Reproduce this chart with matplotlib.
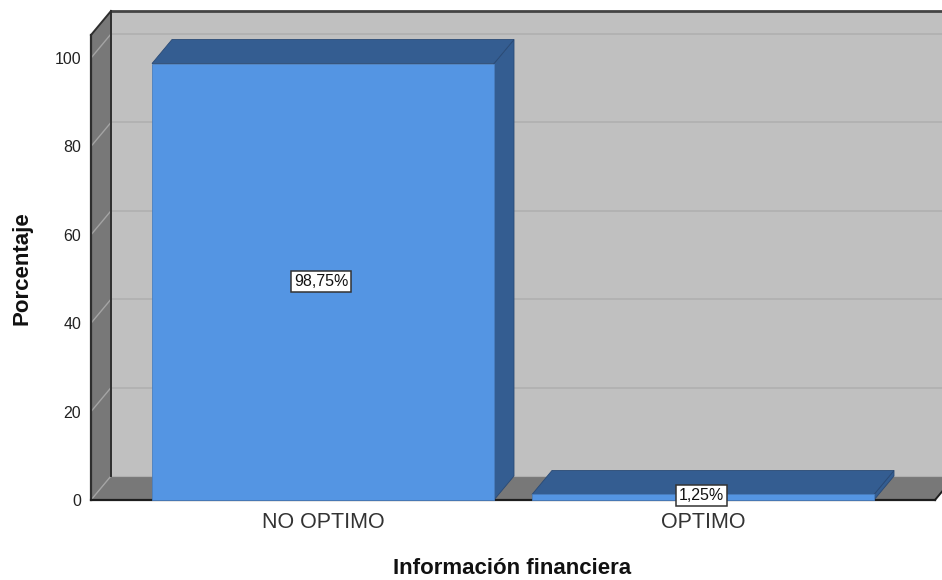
import matplotlib
matplotlib.use("Agg")
import matplotlib.pyplot as plt
from matplotlib.patches import Polygon, Rectangle

categories = ["NO OPTIMO", "OPTIMO"]
values = [98.75, 1.25]
value_labels = ["98,75%", "1,25%"]
yticks = [0, 20, 40, 60, 80, 100]
xlabel = "Información financiera"
ylabel = "Porcentaje"

W, H = 942, 580
fig = plt.figure(figsize=(W / 100, H / 100), dpi=100)
fig.patch.set_facecolor("white")

# axes frame (front plane) in pixels
left_px, right_px, base_px, top_px = 91, 942, 500, 11
ax = fig.add_axes([left_px / W, (H - base_px) / H, (right_px - left_px) / W, (base_px - top_px) / H])
py = 4.42          # pixels per percent
px = 380.0         # pixels per category
ymax = (base_px - top_px) / py
x0 = -(323 - left_px) / px
x1 = (right_px - 323) / px
ax.set_xlim(x0, x1)
ax.set_ylim(0, ymax)
ax.set_facecolor("none")
for s in ax.spines.values():
    s.set_visible(False)

dx = 20 / px
dy = 24 / py
xr_floor = (935 - 323) / px

wall_back = "#C0C0C0"
wall_side = "#787878"
edge_dark = "#2E2E2E"

# back wall
ax.add_patch(Rectangle((x0 + dx, dy), x1 + 1 - (x0 + dx), ymax - dy, facecolor=wall_back,
                       edgecolor="none", zorder=1, clip_on=False))
# left wall
ax.add_patch(Polygon([(x0, 0), (x0 + dx, dy), (x0 + dx, ymax), (x0, ymax - dy)], closed=True,
                     facecolor=wall_side, edgecolor="none", zorder=2, clip_on=False))
# floor
ax.add_patch(Polygon([(x0, 0), (xr_floor, 0), (xr_floor + dx, dy), (x0 + dx, dy)], closed=True,
                     facecolor=wall_side, edgecolor="none", zorder=2, clip_on=False))

# gridlines
for v in yticks[1:]:
    ax.plot([x0 + dx, x1 + 1], [v + dy, v + dy], color="#B0B0B0", lw=1.2, zorder=3, clip_on=False)
    ax.plot([x0, x0 + dx], [v, v + dy], color="#A4A4A4", lw=1.0, zorder=3, clip_on=False)
ax.plot([x0 + dx, x1 + 1], [dy, dy], color="#B0B0B0", lw=0.8, zorder=3, clip_on=False)
ax.plot([x0, x0 + dx], [0, dy], color="#A4A4A4", lw=1.0, zorder=3, clip_on=False)

# edges
ax.plot([x0, x0], [0, ymax - dy], color=edge_dark, lw=1.6, zorder=4, clip_on=False)
ax.plot([x0, x0 + dx], [ymax - dy, ymax], color=edge_dark, lw=1.4, zorder=4, clip_on=False)
ax.plot([x0 + dx, x1 + 1], [ymax, ymax], color="#444444", lw=2.0, zorder=4, clip_on=False)
ax.plot([x0 + dx, x0 + dx], [dy, ymax], color=edge_dark, lw=1.4, zorder=4, clip_on=False)
ax.plot([x0, xr_floor], [0, 0], color="#1E1E1E", lw=1.6, zorder=4, clip_on=False)
ax.plot([xr_floor, xr_floor + dx], [0, dy], color="#1E1E1E", lw=1.4, zorder=4, clip_on=False)

# bars
front_c = "#5495E3"
dark_c = "#345D91"
bw = 0.9
for i, v in enumerate(values):
    l, r = i - bw / 2, i + bw / 2
    ax.add_patch(Polygon([(r, 0), (r + dx, dy), (r + dx, v + dy), (r, v)], closed=True,
                         facecolor=dark_c, edgecolor="#2A4A75", lw=0.6, zorder=5, clip_on=False))
    ax.add_patch(Polygon([(l, v), (r, v), (r + dx, v + dy), (l + dx, v + dy)], closed=True,
                         facecolor=dark_c, edgecolor="#2A4A75", lw=0.6, zorder=5, clip_on=False))
    ax.add_patch(Rectangle((l, 0), bw, v, facecolor=front_c, edgecolor="#4A7FC0", lw=0.6,
                           zorder=6, clip_on=False))

# value labels
label_y = [values[0] / 2, 1.1]
for i, (v, t) in enumerate(zip(values, value_labels)):
    ax.text(i - 0.005, label_y[i], t, ha="center", va="center", fontsize=11.5,
            family="Liberation Sans", color="#111111", zorder=8,
            bbox=dict(boxstyle="square,pad=0.18", facecolor="white", edgecolor="#333333", lw=1.1))

ax.set_yticks(yticks)
ax.set_yticklabels([str(t) for t in yticks], fontsize=11.5, family="Liberation Sans", color="#222222")
ax.set_xticks(range(len(categories)))
ax.set_xticklabels(categories, fontsize=15.5, family="Liberation Sans", color="#333333")
ax.tick_params(axis="y", length=0, pad=7)
ax.tick_params(axis="x", length=0, pad=9)

fig.text(512 / W, 1 - 569 / H, xlabel, ha="center", va="center", fontsize=16,
         fontweight="bold", family="Liberation Sans", color="#111111")
fig.text(22 / W, 1 - 268 / H, ylabel, ha="center", va="center", rotation=90, fontsize=16,
         fontweight="bold", family="Liberation Sans", color="#111111")

fig.savefig("out.png", dpi=100, facecolor="white")
